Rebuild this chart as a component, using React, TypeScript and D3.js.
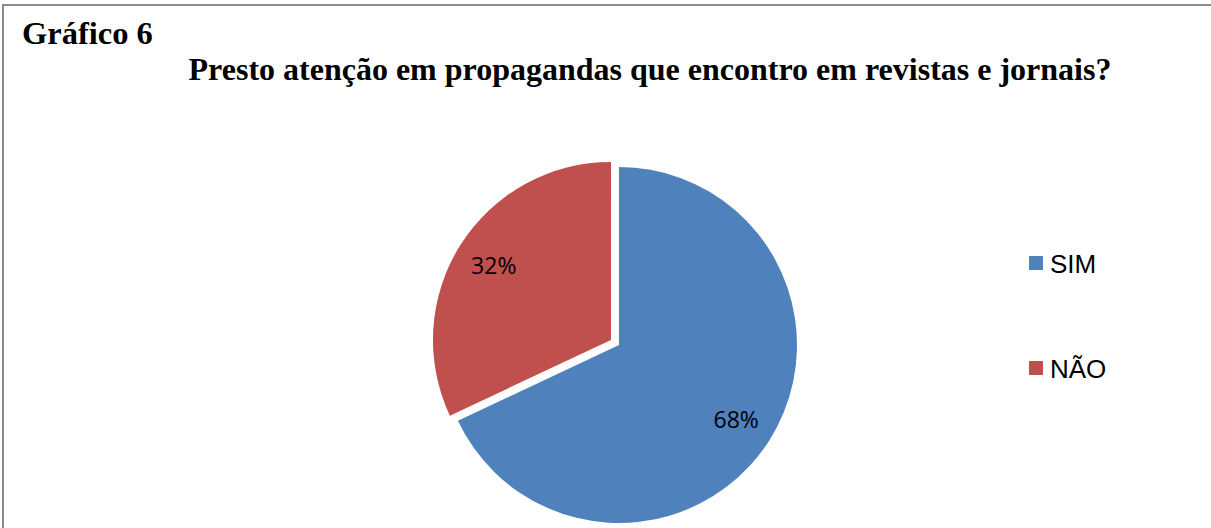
import { useEffect, useRef } from "react";
import * as d3 from "d3";

const categories = ["SIM", "NÃO"];
const values = [68, 32];
const labels = ["68%", "32%"];
const colors = ["#4F81BD", "#C0504D"];

const chartLabel = "Gráfico 6";
const title = "Presto atenção em propagandas que encontro em revistas e jornais?";

export default function App() {
  const svgRef = useRef<SVGSVGElement>(null);

  useEffect(() => {
    if (!svgRef.current) return;
    const width = 1211;
    const height = 528;

    const svg = d3.select(svgRef.current);
    svg.attr("width", width).attr("height", height).attr("viewBox", `0 0 ${width} ${height}`);
    svg.selectAll("*").remove();

    svg.append("rect").attr("width", width).attr("height", height).attr("fill", "#fff");

    // frame (right and bottom sides fall outside the picture)
    svg
      .append("rect")
      .attr("x", 3)
      .attr("y", 5)
      .attr("width", width + 20)
      .attr("height", height + 20)
      .attr("fill", "none")
      .attr("stroke", "#8c8c8c")
      .attr("stroke-width", 2);

    svg
      .append("text")
      .attr("x", 22)
      .attr("y", 44)
      .attr("font-family", "'Liberation Serif', 'Times New Roman', serif")
      .attr("font-weight", "bold")
      .attr("font-size", 32.5)
      .attr("fill", "#000")
      .text(chartLabel);

    svg
      .append("text")
      .attr("x", 650)
      .attr("y", 80)
      .attr("text-anchor", "middle")
      .attr("font-family", "'Liberation Serif', 'Times New Roman', serif")
      .attr("font-weight", "bold")
      .attr("font-size", 32)
      .attr("fill", "#000")
      .text(title);

    // ── Pie ──────────────────────────────────────────────────────────────────
    const cx = 619;
    const cy = 345;
    const r = 178;
    const explode = [0, 9.5];

    const pie = d3.pie<number>().sort(null).value((d) => d);
    const arcs = pie(values);
    const arc = d3.arc<d3.PieArcDatum<number>>().innerRadius(0).outerRadius(r);
    const labelArc = d3.arc<d3.PieArcDatum<number>>().innerRadius(r * 0.78).outerRadius(r * 0.78);

    const g = svg.append("g").attr("transform", `translate(${cx},${cy})`);

    arcs.forEach((a, i) => {
      const mid = (a.startAngle + a.endAngle) / 2;
      const dx = Math.sin(mid) * explode[i];
      const dy = -Math.cos(mid) * explode[i];
      const sg = g.append("g").attr("transform", `translate(${dx},${dy})`);
      sg.append("path").attr("d", arc(a) as string).attr("fill", colors[i]);
      const [lx, ly] = labelArc.centroid(a);
      sg.append("text")
        .attr("x", lx)
        .attr("y", ly)
        .attr("dy", "0.36em")
        .attr("text-anchor", "middle")
        .attr("font-family", "'Open Sans', Lato, sans-serif")
        .attr("font-size", 23)
        .attr("fill", "#000")
        .text(labels[i]);
    });

    // ── Legend ───────────────────────────────────────────────────────────────
    const legendY = d3.scalePoint<string>().domain(categories).range([263, 368]);
    const legend = svg.append("g");
    categories.forEach((c, i) => {
      const y = legendY(c) as number;
      legend
        .append("rect")
        .attr("x", 1029)
        .attr("y", y - 7)
        .attr("width", 14)
        .attr("height", 14)
        .attr("fill", colors[i]);
      legend
        .append("text")
        .attr("x", 1050)
        .attr("y", y + 9.5)
        .attr("font-family", "'Liberation Sans', Arial, sans-serif")
        .attr("font-size", 26)
        .attr("fill", "#000")
        .text(c);
    });
  }, []);

  return (
    <div style={{ position: "absolute", left: 0, top: 0 }}>
      <svg ref={svgRef} style={{ display: "block" }} />
    </div>
  );
}
